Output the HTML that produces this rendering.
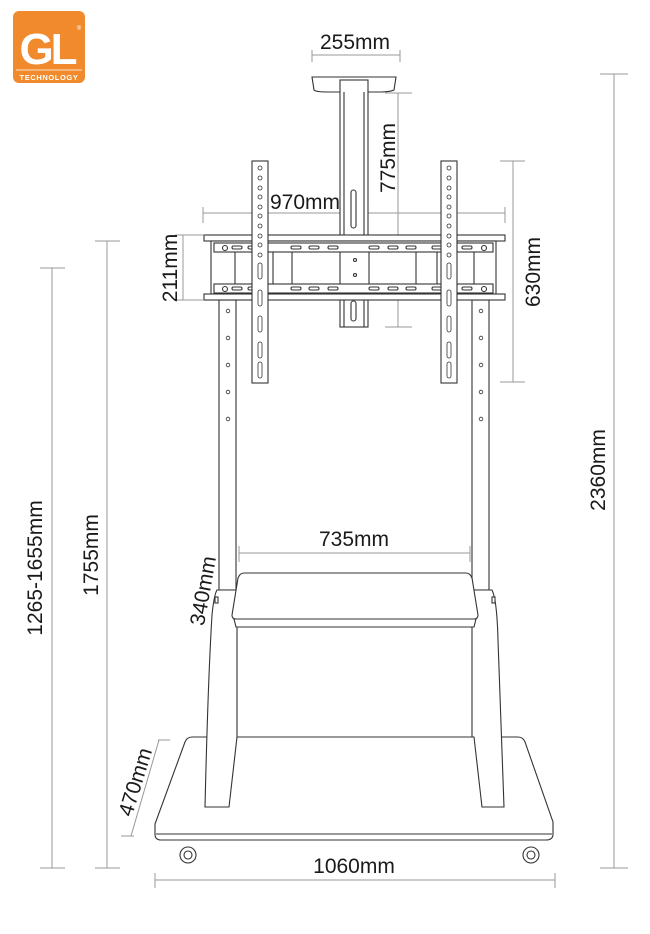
<!DOCTYPE html>
<html><head><meta charset="utf-8"><style>
html,body{margin:0;padding:0;background:#fff;}
svg{display:block;}
text{font-family:"Liberation Sans",sans-serif;fill:#1a1a1a;}
</style></head><body>
<svg width="650" height="934" viewBox="0 0 650 934" xmlns="http://www.w3.org/2000/svg">
<!-- logo -->
<rect x="13" y="11" width="72" height="72" rx="6" fill="#f08a2c"/>
<text x="47" y="64" font-size="44" font-weight="bold" text-anchor="middle" style="fill:#fff;letter-spacing:-3px">GL</text>
<text x="79" y="30" font-size="6" text-anchor="middle" style="fill:#fff">®</text>
<line x1="16" y1="70" x2="82" y2="70" stroke="#fff" stroke-width="0.8"/>
<text x="49" y="80" font-size="7.5" font-weight="bold" text-anchor="middle" style="fill:#fff;letter-spacing:0.6px">TECHNOLOGY</text>

<g fill="none" stroke="#999" stroke-width="1">
<line x1="312" y1="55" x2="400" y2="55"/><line x1="312" y1="50" x2="312" y2="62"/><line x1="400" y1="50" x2="400" y2="62"/>
<line x1="398" y1="93" x2="398" y2="327"/><line x1="385" y1="93" x2="412" y2="93"/><line x1="385" y1="327" x2="412" y2="327"/>
<line x1="203" y1="213" x2="505" y2="213"/><line x1="203" y1="207" x2="203" y2="223"/><line x1="505" y1="207" x2="505" y2="223"/>
<line x1="183" y1="235" x2="183" y2="300"/><line x1="175" y1="235" x2="203" y2="235"/><line x1="175" y1="300" x2="203" y2="300"/>
<line x1="513" y1="161" x2="513" y2="382"/><line x1="500" y1="161" x2="525" y2="161"/><line x1="500" y1="382" x2="525" y2="382"/>
<line x1="52" y1="268" x2="52" y2="868"/><line x1="40" y1="268" x2="65" y2="268"/><line x1="40" y1="868" x2="65" y2="868"/>
<line x1="107" y1="241" x2="107" y2="868"/><line x1="95" y1="241" x2="120" y2="241"/><line x1="95" y1="868" x2="120" y2="868"/>
<line x1="614" y1="74" x2="614" y2="868"/><line x1="600" y1="74" x2="628" y2="74"/><line x1="600" y1="868" x2="628" y2="868"/>
<line x1="239" y1="553" x2="470" y2="553"/><line x1="239" y1="546" x2="239" y2="562"/><line x1="470" y1="546" x2="470" y2="562"/>
<line x1="155" y1="880" x2="555" y2="880"/><line x1="155" y1="873" x2="155" y2="888"/><line x1="555" y1="873" x2="555" y2="888"/>
<line x1="229" y1="574" x2="222" y2="617"/><line x1="224" y1="574" x2="236" y2="574"/><line x1="216" y1="617" x2="230" y2="617"/>
<line x1="159" y1="740" x2="131" y2="836"/><line x1="158" y1="740" x2="170" y2="740"/><line x1="121" y1="836" x2="134" y2="836"/>
</g>

<g fill="#fff" stroke="#333" stroke-width="1.1">
<path d="M312 77 L396 77 L394 90 Q390 92 380 92 L328 92 Q316 92 314 90 Z"/>
<rect x="340" y="80" width="28" height="247"/>
<line x1="344" y1="92" x2="344" y2="327"/><line x1="364" y1="92" x2="364" y2="327"/>
<rect x="351" y="190" width="5" height="38" rx="2.5"/>
<rect x="351" y="301" width="5" height="20" rx="2.5"/>
<rect x="219" y="300" width="17" height="290"/>
<rect x="472" y="300" width="17" height="290"/>
<rect x="204" y="235" width="301" height="6"/>
<rect x="211" y="241" width="285" height="53"/>
<rect x="214" y="243" width="279" height="9"/>
<rect x="214" y="284" width="279" height="9"/>
<rect x="204" y="294" width="301" height="6"/>
<line x1="235" y1="252" x2="235" y2="284"/><line x1="474" y1="252" x2="474" y2="284"/>
<line x1="273" y1="252" x2="273" y2="284"/><line x1="292" y1="252" x2="292" y2="284"/>
<line x1="340" y1="252" x2="340" y2="284"/><line x1="369" y1="252" x2="369" y2="284"/>
<line x1="416" y1="252" x2="416" y2="284"/><line x1="437" y1="252" x2="437" y2="284"/>
<circle cx="225" cy="248" r="2.5"/><circle cx="484" cy="248" r="2.5"/>
<circle cx="225" cy="289" r="2.5"/><circle cx="484" cy="289" r="2.5"/>
<circle cx="355" cy="260" r="1.5"/><circle cx="355" cy="275" r="1.5"/>
<g>
<rect x="232" y="246" width="10" height="3" rx="1.5"/><rect x="248" y="246" width="10" height="3" rx="1.5"/><rect x="291" y="246" width="10" height="3" rx="1.5"/><rect x="309" y="246" width="10" height="3" rx="1.5"/><rect x="328" y="246" width="10" height="3" rx="1.5"/><rect x="369" y="246" width="10" height="3" rx="1.5"/><rect x="388" y="246" width="10" height="3" rx="1.5"/><rect x="406" y="246" width="10" height="3" rx="1.5"/><rect x="432" y="246" width="10" height="3" rx="1.5"/><rect x="462" y="246" width="10" height="3" rx="1.5"/>
<rect x="232" y="287" width="10" height="3" rx="1.5"/><rect x="248" y="287" width="10" height="3" rx="1.5"/><rect x="291" y="287" width="10" height="3" rx="1.5"/><rect x="309" y="287" width="10" height="3" rx="1.5"/><rect x="328" y="287" width="10" height="3" rx="1.5"/><rect x="369" y="287" width="10" height="3" rx="1.5"/><rect x="388" y="287" width="10" height="3" rx="1.5"/><rect x="406" y="287" width="10" height="3" rx="1.5"/><rect x="432" y="287" width="10" height="3" rx="1.5"/><rect x="462" y="287" width="10" height="3" rx="1.5"/>
</g>
<rect x="252" y="161" width="16" height="222"/>
<rect x="441" y="161" width="16" height="222"/>
<g stroke-width="0.8">
<circle cx="260" cy="168" r="2"/><circle cx="260" cy="178" r="2"/><circle cx="260" cy="188" r="2"/><circle cx="260" cy="197" r="2"/><circle cx="260" cy="207" r="2"/><circle cx="260" cy="216" r="2"/><circle cx="260" cy="226" r="2"/><circle cx="260" cy="236" r="2"/><circle cx="260" cy="245" r="2"/><circle cx="260" cy="255" r="2"/>
<circle cx="449" cy="168" r="2"/><circle cx="449" cy="178" r="2"/><circle cx="449" cy="188" r="2"/><circle cx="449" cy="197" r="2"/><circle cx="449" cy="207" r="2"/><circle cx="449" cy="216" r="2"/><circle cx="449" cy="226" r="2"/><circle cx="449" cy="236" r="2"/><circle cx="449" cy="245" r="2"/><circle cx="449" cy="255" r="2"/>
<rect x="258" y="263" width="4" height="16" rx="2"/><rect x="258" y="290" width="4" height="16" rx="2"/><rect x="258" y="316" width="4" height="16" rx="2"/><rect x="258" y="342" width="4" height="16" rx="2"/><rect x="258" y="362" width="4" height="16" rx="2"/>
<rect x="447" y="263" width="4" height="16" rx="2"/><rect x="447" y="290" width="4" height="16" rx="2"/><rect x="447" y="316" width="4" height="16" rx="2"/><rect x="447" y="342" width="4" height="16" rx="2"/><rect x="447" y="362" width="4" height="16" rx="2"/>
<circle cx="228" cy="311" r="1.8"/><circle cx="228" cy="338" r="1.8"/><circle cx="228" cy="365" r="1.8"/><circle cx="228" cy="392" r="1.8"/><circle cx="228" cy="419" r="1.8"/>
<circle cx="481" cy="311" r="1.8"/><circle cx="481" cy="338" r="1.8"/><circle cx="481" cy="365" r="1.8"/><circle cx="481" cy="392" r="1.8"/><circle cx="481" cy="419" r="1.8"/>
</g>
<circle cx="188" cy="855" r="8"/><circle cx="188" cy="855" r="4"/>
<circle cx="531" cy="855" r="8"/><circle cx="531" cy="855" r="4"/>
<path d="M197 737 L518 737 Q523 737 525 742 L553 822 L553 834 Q553 840 546 840 L161 840 Q155 840 155 834 L155 824 L185 742 Q187 737 192 737 Z"/>
<line x1="156" y1="834" x2="552" y2="834"/>
<path d="M217 590 L237 590 L237 737 L229 807 L205 807 Q208 680 212 615 Q214 595 217 590 Z"/>
<path d="M472 590 L492 590 Q497 600 498 640 L504 807 L482 807 L474 737 L472 737 Z"/>
<line x1="237" y1="737" x2="474" y2="737"/>
<path d="M244 573 L466 573 Q470 573 472 578 L478 615 Q478 619 474 619 L236 619 Q232 619 232 615 L238 578 Q240 573 244 573 Z"/>
<path d="M234 619 L476 619 L474 627 L236 627 Z"/>
<rect x="215" y="597" width="3" height="6"/><rect x="492" y="597" width="3" height="6"/>
</g>

<g font-size="21">
<text x="355" y="49" text-anchor="middle">255mm</text>
<text x="305" y="209" text-anchor="middle">970mm</text>
<text x="354" y="546" text-anchor="middle">735mm</text>
<text x="354" y="873" text-anchor="middle">1060mm</text>
<text transform="translate(395,158) rotate(-90)" text-anchor="middle">775mm</text>
<text transform="translate(177,268) rotate(-90)" text-anchor="middle">211mm</text>
<text transform="translate(540,272) rotate(-90)" text-anchor="middle">630mm</text>
<text transform="translate(605,470) rotate(-90)" text-anchor="middle">2360mm</text>
<text transform="translate(98,555) rotate(-90)" text-anchor="middle">1755mm</text>
<text transform="translate(42,568) rotate(-90)" text-anchor="middle">1265-1655mm</text>
<text transform="translate(210,592) rotate(-80)" text-anchor="middle">340mm</text>
<text transform="translate(142,784) rotate(-73)" text-anchor="middle">470mm</text>
</g>
</svg>
</body></html>
